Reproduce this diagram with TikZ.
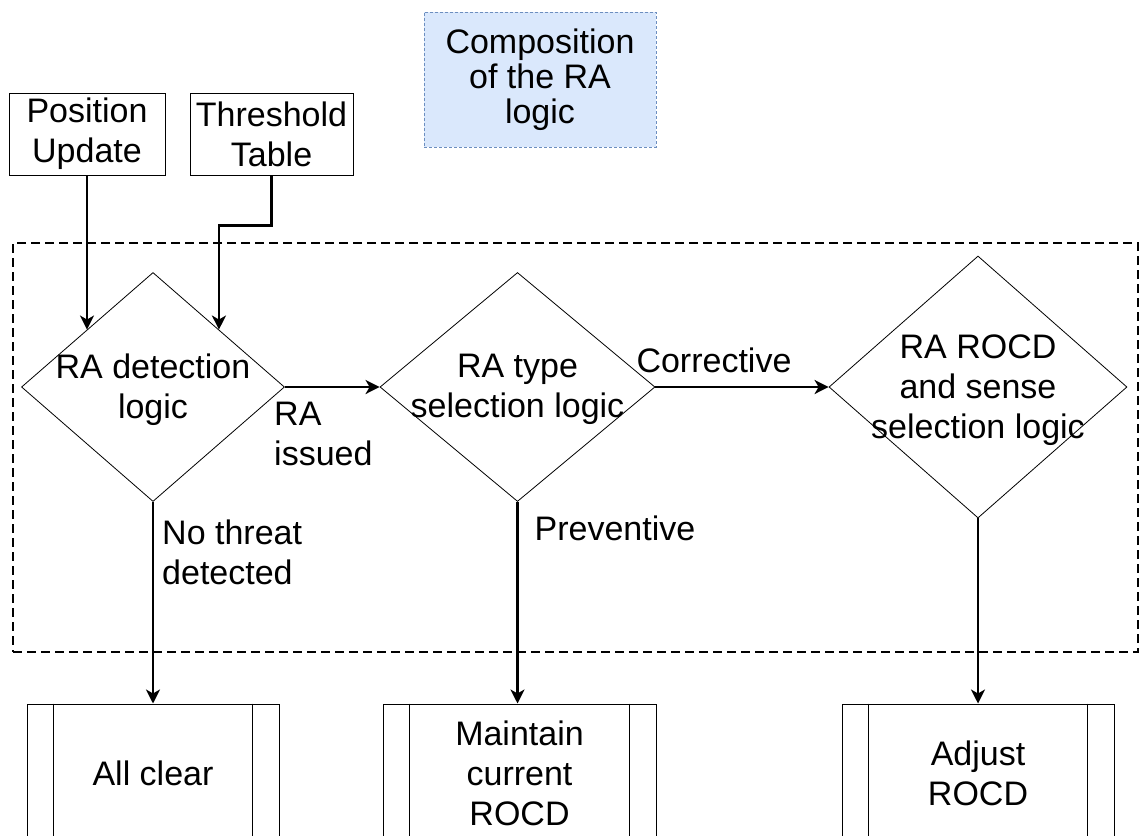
\documentclass[tikz,border=0pt]{standalone}
\usepackage{fontspec}
\setmainfont{Liberation Sans}
\usetikzlibrary{shapes.geometric,arrows.meta}
\definecolor{cfill}{HTML}{DAE8FC}
\definecolor{cline}{HTML}{6C8EBF}
\begin{document}
\begin{tikzpicture}[x=1pt,y=-1pt,
  every node/.style={font=\fontsize{34}{40}\selectfont, inner sep=0pt},
  inbox/.style={draw, line width=1pt, align=center},
  dia/.style={diamond, draw, line width=0.8pt},
  dtext/.style={align=center},
  lbl/.style={align=left},
  conn/.style={line width=2.5pt, -{Stealth[length=14pt,width=14pt,inset=4pt]}},
  procbox/.style={draw, line width=1pt, align=center, minimum height=138pt},
  grpbox/.style={draw, line width=1.5pt, dash pattern=on 9pt off 5pt},
  note/.style={draw=cline, fill=cfill, line width=1pt, dash pattern=on 3pt off 2pt, align=center,
    font=\fontsize{34}{35}\selectfont}
]
\useasboundingbox (0,0) rectangle (1140,835);
\clip (0,0) rectangle (1140,835);

% group container
\node[grpbox, minimum width=1125pt, minimum height=409pt] (grp) at (575.5,447.5) {};

% note
\node[note, minimum width=232pt, minimum height=135pt] (comp) at (540,79.5) {Composition\\of the RA\\logic};

% inputs
\node[inbox, minimum width=156pt, minimum height=82pt] (pu) at (87,134) {Position\\Update};
\node[inbox, minimum width=163pt, minimum height=82pt] (tt) at (271.5,134) {Threshold\\Table};

% diamonds
\node[dia, minimum width=263pt, minimum height=229pt] (d1) at (153,387) {};
\node[dtext] (d1t) at (153,390) {RA detection\\logic};
\node[dia, minimum width=275pt, minimum height=229pt] (d2) at (517.5,387) {};
\node[dtext] (d2t) at (517.5,389) {RA type\\selection logic};
\node[dia, minimum width=298pt, minimum height=262pt] (d3) at (978,387) {};
\node[dtext] (d3t) at (978,390) {RA ROCD\\and sense\\selection logic};

% outputs
\node[procbox, minimum width=252pt] (ac) at (153,773) {All clear};
\node[procbox, minimum width=273pt] (mc) at (519.5,773) {Maintain\\current\\ROCD};
\node[procbox, minimum width=272pt] (ar) at (978,773) {Adjust\\ROCD};
\foreach \n in {ac,mc,ar}{
  \draw[line width=1pt] ([xshift=27pt]\n.north west) -- ([xshift=27pt]\n.south west);
  \draw[line width=1pt] ([xshift=-27pt]\n.north east) -- ([xshift=-27pt]\n.south east);
}

% connectors
\draw[conn] (pu.south) -- (pu.south |- d1.north west);
\draw[conn] (tt.south) -- ++(0,50) -| (d1.north east);
\draw[conn] (d1.east) -- (d2.west);
\draw[conn] (d2.east) -- (d3.west);
\draw[conn] (d1.south) -- (d1.south |- ac.north);
\draw[conn] (d2.south) -- (d2.south |- mc.north);
\draw[conn] (d3.south) -- (d3.south |- ar.north);

% labels
\node[lbl, anchor=north west] (l1) at (274,402) {RA\\issued};
\node (l2) at (714,360) {Corrective};
\node[lbl, anchor=north west] (l3) at (162,520) {No threat\\detected};
\node (l4) at (615,528) {Preventive};
\end{tikzpicture}
\end{document}
